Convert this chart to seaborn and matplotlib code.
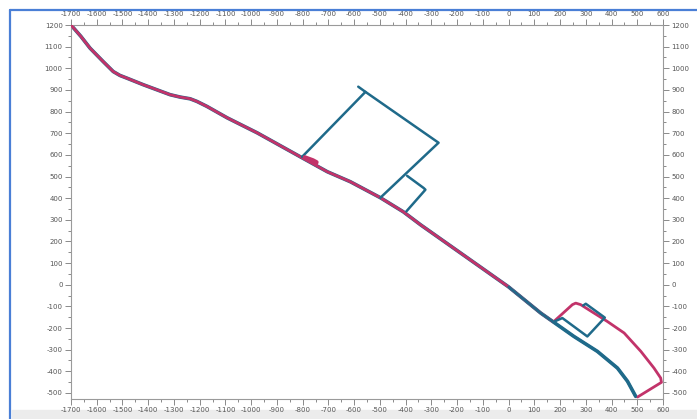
import matplotlib
matplotlib.use("Agg")
import matplotlib.pyplot as plt
from matplotlib.lines import Line2D
from matplotlib.patches import Rectangle
from matplotlib.ticker import MultipleLocator
import seaborn as sns
import pandas as pd

# ---- data ----
road_x = [-1700, -1662, -1626, -1575, -1536, -1510, -1484, -1419, -1315, -1276,
          -1237, -1211, -1172, -1093, -977, -809, -704, -615, -498, -409,
          -342, 0, 125, 174]
road_y = [1200, 1148, 1093, 1031, 985, 967, 955, 924, 878, 867,
          859, 847, 824, 771, 702, 591, 522, 476, 402, 337,
          277, -10, -131, -172]

pink_box_x = [174, 248, 261, 280, 384, 449, 514, 565, 591, 594, 501]
pink_box_y = [-172, -92, -85, -92, -170, -223, -308, -385, -431, -451, -519]

blue_tail_x = [174, 254, 345, 423, 462, 494]
blue_tail_y = [-172, -239, -308, -385, -446, -516]

big_box_left_x = [-802, -556]
big_box_left_y = [591, 891]
big_box_top_x = [-584, -556, -272, -498]
big_box_top_y = [915, 891, 656, 402]

small_box_x = [-394, -330, -323, -397]
small_box_y = [503, 447, 439, 339]

pink_hook_x = [-792, -760, -746, -748]
pink_hook_y = [589, 575, 566, 560]

lr_box_x = [174, 209, 306, 374, 300, 290]
lr_box_y = [-172, -154, -239, -152, -88, -96]

x_ticks = list(range(-1700, 601, 100))
y_ticks = list(range(-500, 1201, 100))

PINK = "#c2336a"
BLUE = "#1f6a8a"

sns.set_style("white")
plt.rcParams["font.family"] = ["DejaVu Sans"]
plt.rcParams["lines.solid_joinstyle"] = "round"
plt.rcParams["lines.solid_capstyle"] = "round"

fig = plt.figure(figsize=(6.97, 4.19), dpi=100)
ax = fig.add_axes([71 / 697, 1 - 399 / 419, (663 - 71) / 697, (399 - 25) / 419])


def seg_frame(pairs):
    rows = []
    for i, (xs, ys) in enumerate(pairs):
        for k, (a, b) in enumerate(zip(xs, ys)):
            rows.append({"x": a, "y": b, "seg": i, "order": k})
    return pd.DataFrame(rows)


# blue road underneath
blue_full = seg_frame([(road_x + blue_tail_x[1:], road_y + blue_tail_y[1:])])
sns.lineplot(data=blue_full, x="x", y="y", units="seg", estimator=None, sort=False,
             color=BLUE, lw=2.6, ax=ax, zorder=2)

# pink path: road + box
pink_df = seg_frame([(road_x + pink_box_x[1:], road_y + pink_box_y[1:])])
sns.lineplot(data=pink_df, x="x", y="y", units="seg", estimator=None, sort=False,
             color=PINK, lw=2.0, ax=ax, zorder=3)

# blue structures on top
blue_df = seg_frame([
    (road_x[-3:] + blue_tail_x[1:], road_y[-3:] + blue_tail_y[1:]),
    (big_box_left_x, big_box_left_y),
    (big_box_top_x, big_box_top_y),
    (small_box_x, small_box_y),
    (lr_box_x, lr_box_y),
])
sns.lineplot(data=blue_df, x="x", y="y", units="seg", estimator=None, sort=False,
             color=BLUE, lw=1.8, ax=ax, zorder=4)

hook_df = seg_frame([(pink_hook_x, pink_hook_y)])
sns.lineplot(data=hook_df, x="x", y="y", units="seg", estimator=None, sort=False,
             color=PINK, lw=3.0, ax=ax, zorder=5)

ax.set_xlim(-1700, 600)
ax.set_ylim(-528, 1200)
ax.set_xticks(x_ticks)
ax.set_xticklabels([str(v) for v in x_ticks])
ax.set_yticks(y_ticks)
ax.set_yticklabels([str(v) for v in y_ticks])
ax.xaxis.set_minor_locator(MultipleLocator(50))
ax.yaxis.set_minor_locator(MultipleLocator(50))
ax.set_xlabel("")
ax.set_ylabel("")
ax.tick_params(axis="both", which="both", direction="out", top=True, right=True,
               bottom=True, left=True, labeltop=True, labelright=True,
               colors="#8a8a8a", labelcolor="#555555", labelsize=5, width=0.7)
ax.tick_params(axis="both", which="major", length=4, pad=2)
ax.tick_params(axis="both", which="minor", length=2)
for s in ax.spines.values():
    s.set_visible(True)
    s.set_color("#9a9a9a")
    s.set_linewidth(0.8)

# screenshot frame
fig.add_artist(Rectangle((12 / 697, 0), 1, 9 / 419, transform=fig.transFigure,
                         color="#ececec", zorder=0))
fig.add_artist(Line2D([10 / 697, 10 / 697], [0, 1 - 10 / 419], transform=fig.transFigure,
                      color="#4a7fd6", lw=1.6))
fig.add_artist(Line2D([10 / 697, 1], [1 - 10 / 419, 1 - 10 / 419], transform=fig.transFigure,
                      color="#4a7fd6", lw=1.6))

fig.savefig("out.png", dpi=100)
